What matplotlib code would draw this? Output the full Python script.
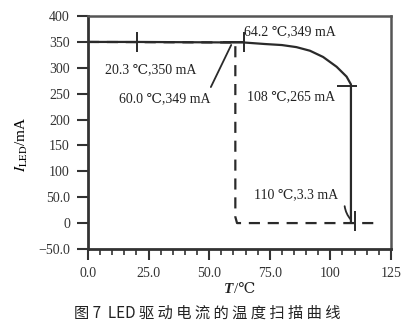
import matplotlib
matplotlib.use("Agg")
import matplotlib.pyplot as plt
from matplotlib.ticker import MultipleLocator, FixedLocator

plt.rcParams['font.family'] = ['Liberation Serif', 'DejaVu Serif', 'Noto Sans CJK SC']
plt.rcParams['mathtext.fontset'] = 'stix'

# ---- data ----
solid_T = [0, 20.3, 60.0, 64.2, 73, 80, 86, 91.6, 97, 102.6, 106.7, 108.5, 108.5]
solid_I = [350, 350, 349, 349, 346, 344, 340, 333, 321, 302, 283, 268, 0]
dashed_T = [0, 60.0, 60.8, 60.8, 61.5, 120]
dashed_I = [350, 349, 349, 12, 0, 0]
vmark_T = [20.3, 64.2, 110]
vmark_I = [350, 349, 3.3]
hmark_T = [60.0, 107]
hmark_I = [349, 265]
labels = ["20.3 ℃,350 mA", "60.0 ℃,349 mA", "64.2 ℃,349 mA", "108 ℃,265 mA", "110 ℃,3.3 mA"]
label_pos = [(25.7, 297), (31.5, 241), (83.2, 369), (84, 245), (86, 54)]
xticks = [0, 25, 50, 75, 100, 125]
xticklabels = ["0.0", "25.0", "50.0", "75.0", "100", "125"]
yticks = [-50, 0, 50, 100, 150, 200, 250, 300, 350, 400]
yticklabels = ["−50.0", "0", "50.0", "100", "150", "200", "250", "300", "350", "400"]

fig = plt.figure(figsize=(4.15, 3.28), dpi=100)
ax = fig.add_axes([0.212, 0.241, 0.730, 0.710])

lc = '#2a2a2a'
ax.plot(solid_T, solid_I, color=lc, lw=1.6, solid_capstyle='butt')
ax.plot(dashed_T, dashed_I, color=lc, lw=1.6, dashes=(5, 3.5))
ax.plot(vmark_T, vmark_I, linestyle='none', marker='|', markersize=15, markeredgewidth=1.4, color=lc)
ax.plot(hmark_T, hmark_I, linestyle='none', marker='_', markersize=15, markeredgewidth=1.4, color=lc)

# leader lines
ax.annotate('', xy=(59.6, 349), xytext=(50.2, 258),
            arrowprops=dict(arrowstyle='-', color=lc, lw=1.3))
ax.annotate('', xy=(109.2, 3), xytext=(105.8, 38),
            arrowprops=dict(arrowstyle='-', color=lc, lw=1.3, connectionstyle='arc3,rad=0.2'))

for txt, (x, y) in zip(labels, label_pos):
    ax.text(x, y, txt, ha='center', va='center', fontsize=10, color='#222222')

ax.set_xlim(0, 125)
ax.set_ylim(-50, 400)
ax.xaxis.set_major_locator(FixedLocator(xticks))
ax.set_xticklabels(xticklabels)
ax.xaxis.set_minor_locator(MultipleLocator(5))
ax.yaxis.set_major_locator(FixedLocator(yticks))
ax.set_yticklabels(yticklabels)

ax.tick_params(axis='both', which='major', direction='out', length=8, width=1.5,
               labelsize=10, colors='#333333', pad=5)
ax.tick_params(axis='x', which='minor', direction='out', length=4, width=1.2, colors='#333333')

for side in ['left', 'bottom']:
    ax.spines[side].set_linewidth(2)
    ax.spines[side].set_color('#333333')
for side in ['top', 'right']:
    ax.spines[side].set_linewidth(1.8)
    ax.spines[side].set_color('#555555')

ax.set_ylabel(r'$\mathit{I}_{\rm LED}$/mA', fontsize=11)
ax.yaxis.set_label_coords(-0.19, 0.45)

# x label: italic bold T followed by /℃
fig.text(0.563, 0.118, "T", ha='right', va='center', fontsize=11,
         style='italic', weight='bold', color='#222222')
fig.text(0.563, 0.118, "/℃", ha='left', va='center', fontsize=11, color='#222222')

fig.text(0.5, 0.045, "图 7  LED 驱 动 电 流 的 温 度 扫 描 曲 线", ha='center', va='center',
         fontsize=11, family=['Noto Sans CJK SC', 'DejaVu Sans'], color='#222222')

fig.savefig('out.png', dpi=100)
